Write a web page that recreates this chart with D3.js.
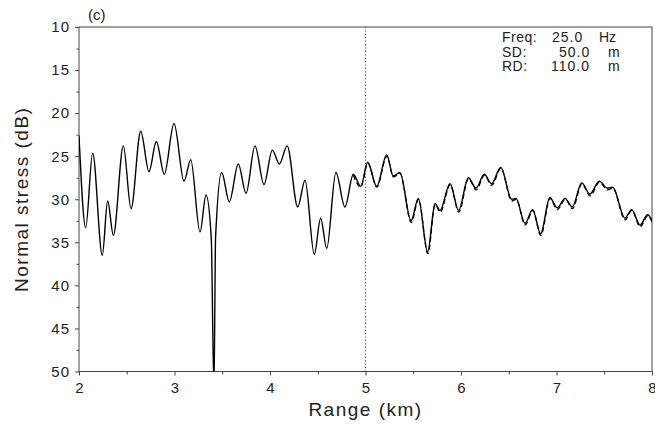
<!DOCTYPE html>
<html>
<head>
<meta charset="utf-8">
<script src="https://cdn.jsdelivr.net/npm/d3@7"></script>
<style>
  body { margin: 0; background: #fff; }
  text { font-family: "Liberation Sans", Arial, sans-serif; fill: #222; }
</style>
</head>
<body>
<div id="chart"></div>
<script>
// solid curve (range km / normal stress dB)
const rangeKm = [2.00, 2.07, 2.143, 2.244, 2.30, 2.36, 2.464, 2.545, 2.646, 2.733, 2.81, 2.893, 2.995,
  3.10, 3.17, 3.267, 3.33, 3.385, 3.413, 3.43, 3.494, 3.574, 3.668, 3.749, 3.843, 3.937,
  4.024, 4.098, 4.18, 4.29, 4.367, 4.464, 4.53, 4.594, 4.69, 4.785, 4.872, 4.95,
  5.023, 5.117, 5.222, 5.29, 5.36, 5.477, 5.553, 5.651, 5.728, 5.78, 5.885, 5.975,
  6.077, 6.157, 6.244, 6.32, 6.416, 6.53, 6.576, 6.67, 6.75, 6.834, 6.93,
  7.008, 7.09, 7.165, 7.264, 7.35, 7.448, 7.532, 7.588, 7.717, 7.787, 7.874, 7.955, 8.0];
const stressDb = [22.6, 33.3, 24.65, 36.5, 30.2, 34.2, 23.8, 31.1, 22.1, 26.8, 23.3, 27.1, 21.2,
  27.9, 25.4, 33.8, 29.5, 34.5, 52, 34.5, 26.9, 30.3, 25.9, 29.3, 23.8, 28.3,
  24.3, 25.9, 23.8, 30.9, 27.8, 36.4, 32.2, 35.7, 26.9, 30.9, 27.1, 28.5,
  25.7, 28.5, 24.85, 27.3, 26.9, 32.5, 29.9, 36.1, 30.5, 31.3, 28.2, 31.3,
  27.5, 28.7, 27.1, 28.2, 26.3, 30.0, 29.9, 32.8, 31.2, 34.0, 29.8,
  31.0, 29.9, 30.9, 28.1, 29.4, 27.9, 28.7, 28.6, 32.2, 31.2, 33.0, 31.8, 32.5];

// dashed curve, almost on top of the solid one
const dashRangeKm = [4.872, 4.95, 5.025, 5.118, 5.224, 5.292, 5.362, 5.479, 5.555, 5.653, 5.73, 5.782, 5.887, 5.977,
  6.079, 6.159, 6.246, 6.322, 6.418, 6.532, 6.578, 6.672, 6.752, 6.836, 6.932,
  7.01, 7.092, 7.167, 7.266, 7.352, 7.45, 7.534, 7.59, 7.719, 7.789, 7.876, 7.957, 8.0];
const dashDb = [27.2, 28.6, 25.8, 28.6, 25.0, 27.4, 27.0, 32.7, 30.0, 36.3, 30.6, 31.5, 28.3, 31.5,
  27.6, 28.9, 27.2, 28.4, 26.4, 30.2, 30.0, 33.0, 31.3, 34.2, 29.9,
  31.2, 30.0, 31.1, 28.2, 29.6, 28.0, 28.9, 28.7, 32.4, 31.3, 33.2, 31.9, 32.6];

const xMajor = [2, 3, 4, 5, 6, 7, 8];
const xMinor = [2.5, 3.5, 4.5, 5.5, 6.5, 7.5];
const yMajor = [10, 15, 20, 25, 30, 35, 40, 45, 50];
const yMinor = [12.5, 17.5, 22.5, 27.5, 32.5, 37.5, 42.5, 47.5];
const infoLabels = ['Freq:', 'SD:', 'RD:'];
const infoValues = ['25.0', '50.0', '110.0'];
const infoUnits = ['Hz', 'm', 'm'];

const W = 655, H = 429;
const m = { left: 79, right: 3, top: 27, bottom: 57.5 };

const svg = d3.select('#chart').append('svg')
  .attr('width', W)
  .attr('height', H);

const x = d3.scaleLinear().domain([2, 8]).range([m.left, W - m.right]);
const y = d3.scaleLinear().domain([10, 50]).range([m.top, H - m.bottom]);

svg.append('defs').append('clipPath').attr('id', 'plotClip')
  .append('rect')
  .attr('x', x(2)).attr('y', y(10))
  .attr('width', x(8) - x(2)).attr('height', y(50) - y(10));

// frame
svg.append('rect')
  .attr('x', x(2)).attr('y', y(10))
  .attr('width', x(8) - x(2)).attr('height', y(50) - y(10))
  .attr('fill', 'none')
  .attr('stroke', '#444')
  .attr('stroke-width', 1);

// minor ticks
svg.append('g')
  .attr('transform', `translate(0,${y(50)})`)
  .call(d3.axisBottom(x).tickValues(xMinor).tickSize(3).tickFormat(''))
  .call(g => g.select('.domain').remove())
  .selectAll('line').attr('stroke', '#444');

svg.append('g')
  .attr('transform', `translate(${x(2)},0)`)
  .call(d3.axisLeft(y).tickValues(yMinor).tickSize(2.5).tickFormat(''))
  .call(g => g.select('.domain').remove())
  .selectAll('line').attr('stroke', '#444');

// major ticks + labels
const xAxis = svg.append('g')
  .attr('transform', `translate(0,${y(50)})`)
  .call(d3.axisBottom(x).tickValues(xMajor).tickSize(4).tickPadding(7).tickFormat(d3.format('d')));
xAxis.select('.domain').remove();
xAxis.selectAll('line').attr('stroke', '#444');
xAxis.selectAll('text')
  .style('font-family', '"Liberation Sans", Arial, sans-serif')
  .style('font-size', '15px')
  .attr('fill', '#222');

const yAxis = svg.append('g')
  .attr('transform', `translate(${x(2)},0)`)
  .call(d3.axisLeft(y).tickValues(yMajor).tickSize(4).tickPadding(5).tickFormat(d3.format('d')));
yAxis.select('.domain').remove();
yAxis.selectAll('line').attr('stroke', '#444');
yAxis.selectAll('text')
  .style('font-family', '"Liberation Sans", Arial, sans-serif')
  .style('font-size', '15px')
  .style('letter-spacing', '1px')
  .attr('fill', '#222');

// dotted marker at 5 km
svg.append('line')
  .attr('x1', x(5)).attr('x2', x(5))
  .attr('y1', y(10)).attr('y2', y(50))
  .attr('stroke', '#555')
  .attr('stroke-width', 1.2)
  .attr('stroke-dasharray', '1.2,2.2');

const line = d3.line()
  .x(d => x(d[0]))
  .y(d => y(d[1]))
  .curve(d3.curveMonotoneX);

const plot = svg.append('g').attr('clip-path', 'url(#plotClip)');

plot.append('path')
  .datum(d3.zip(rangeKm, stressDb))
  .attr('d', line)
  .attr('fill', 'none')
  .attr('stroke', '#000')
  .attr('stroke-width', 1.4);

plot.append('path')
  .datum(d3.zip(dashRangeKm, dashDb))
  .attr('d', line)
  .attr('fill', 'none')
  .attr('stroke', '#000')
  .attr('stroke-width', 1.3)
  .attr('stroke-dasharray', '5,3');

// axis titles
svg.append('text')
  .attr('x', (x(2) + x(8)) / 2)
  .attr('y', 416)
  .attr('text-anchor', 'middle')
  .style('font-size', '19px')
  .style('letter-spacing', '1.5px')
  .text('Range (km)');

svg.append('text')
  .attr('transform', `translate(28,${(y(10) + y(50)) / 2}) rotate(-90)`)
  .attr('text-anchor', 'middle')
  .style('font-size', '19px')
  .style('letter-spacing', '1.5px')
  .text('Normal stress (dB)');

svg.append('text')
  .attr('x', 88)
  .attr('y', 20)
  .style('font-size', '15px')
  .text('(c)');

// info box
const info = svg.append('g').style('font-size', '14px');
const valX = [552, 559, 551];
const unitX = [599, 608, 608];
infoLabels.forEach((lab, i) => {
  const yy = 42 + i * 14.5;
  info.append('text').attr('x', 502).attr('y', yy).style('letter-spacing', '0.5px').text(lab);
  info.append('text').attr('x', valX[i]).attr('y', yy).style('letter-spacing', '1px').text(infoValues[i]);
  info.append('text').attr('x', unitX[i]).attr('y', yy).text(infoUnits[i]);
});
</script>
</body>
</html>
